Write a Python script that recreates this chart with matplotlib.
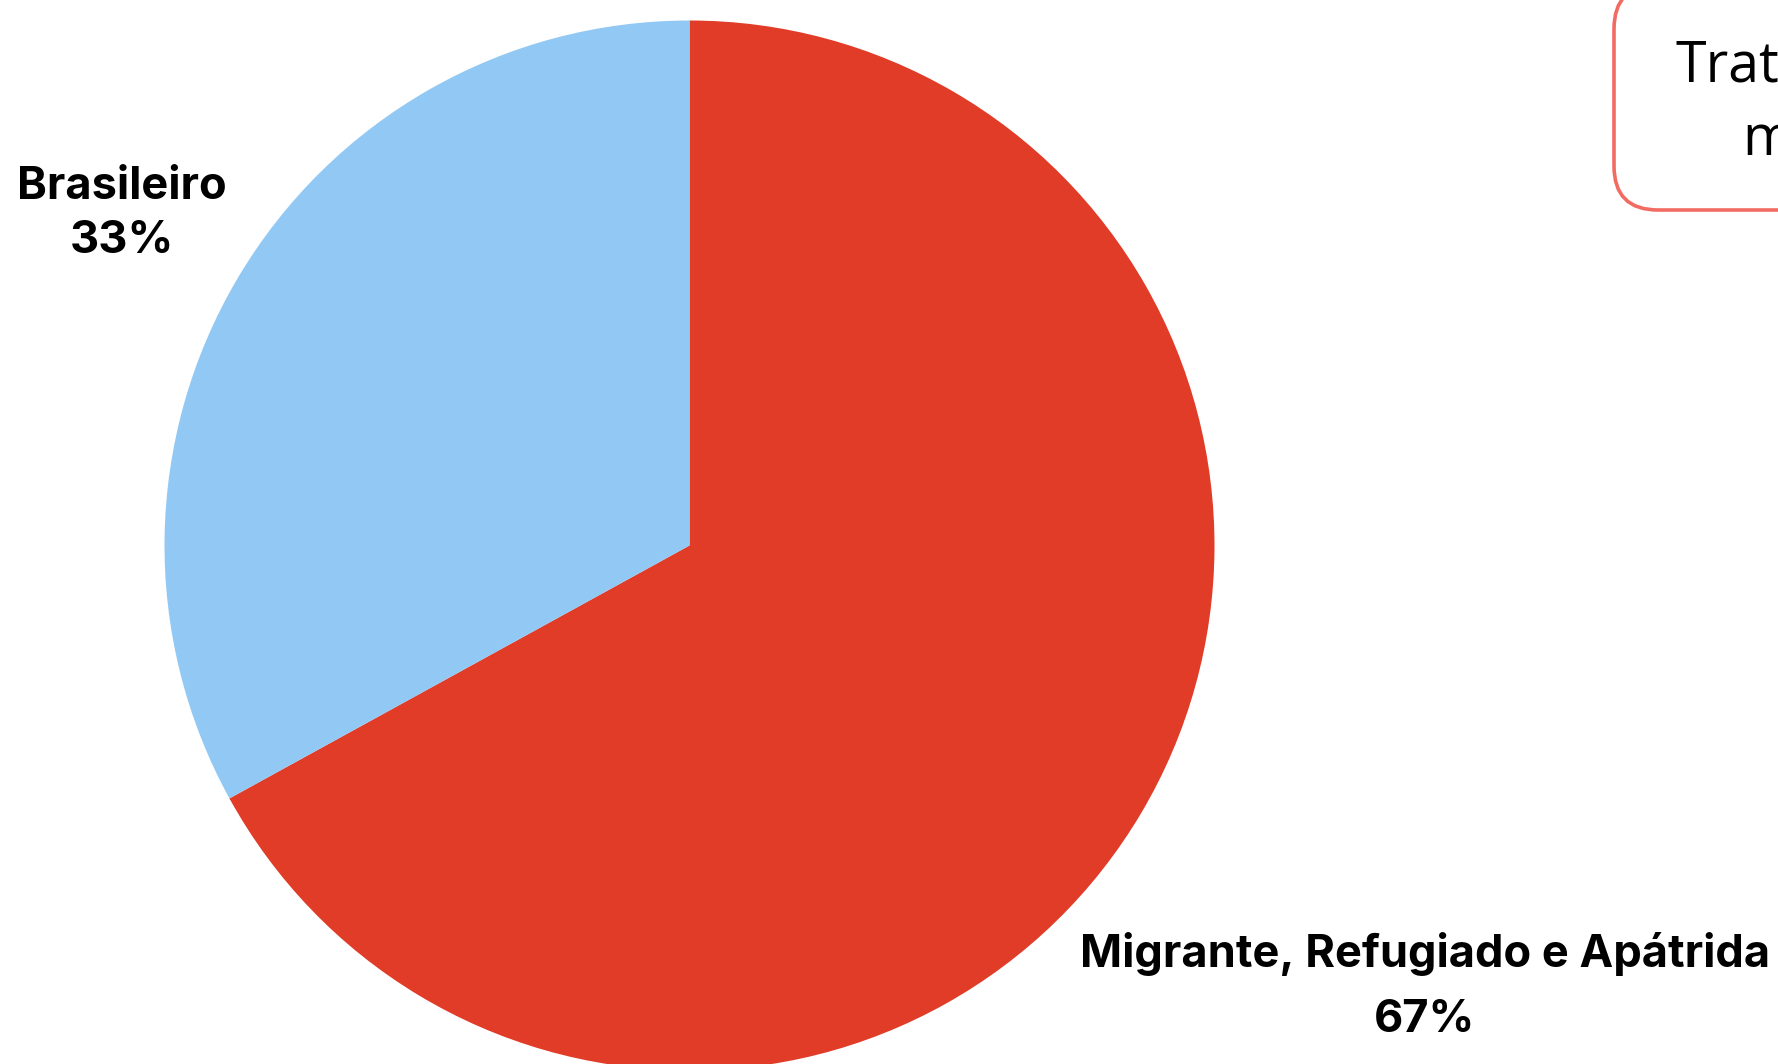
import matplotlib
matplotlib.use("Agg")
import matplotlib.pyplot as plt
from matplotlib.patches import FancyBboxPatch

categories = ["Migrante, Refugiado e Apátrida", "Brasileiro"]
values = [67, 33]
colors = ["#E03C28", "#92C9F4"]

W, H = 1778, 1064
fig = plt.figure(figsize=(W / 100, H / 100), dpi=100)
fig.patch.set_facecolor("white")

cx, cy, r = 689.5, 545.5, 525
ax = fig.add_axes([(cx - r) / W, (H - cy - r) / H, 2 * r / W, 2 * r / H])
ax.pie(values, colors=colors, startangle=90, counterclock=False,
       wedgeprops=dict(linewidth=0), radius=1.0)
ax.set_xlim(-1, 1)
ax.set_ylim(-1, 1)
ax.set_aspect("equal")
ax.axis("off")

ov = fig.add_axes([0, 0, 1, 1], zorder=5)
ov.set_xlim(0, W)
ov.set_ylim(H, 0)
ov.axis("off")
ov.patch.set_alpha(0)

lab_font = dict(family=["Inter", "DejaVu Sans"], fontweight="bold", color="black",
                fontsize=32.5, ha="center", va="baseline")
ov.text(122, 199, categories[1], **lab_font)
ov.text(122, 253, f"{values[1]}%", **lab_font)
ov.text(1425, 967, categories[0], **lab_font)
ov.text(1425, 1032, f"{values[0]}%", **lab_font)

box = FancyBboxPatch((1614, -15), 400, 225,
                     boxstyle="round,pad=0,rounding_size=44",
                     facecolor="white", edgecolor="#F26B63", linewidth=2.6,
                     clip_on=False)
ov.add_patch(box)
ov.text(1675, 82, "Tratamento", ha="left", va="baseline", fontsize=40,
        family=["Open Sans", "DejaVu Sans"], color="black", clip_on=True)
ov.text(1742, 155, "migrante", ha="left", va="baseline", fontsize=40,
        family=["Open Sans", "DejaVu Sans"], color="black", clip_on=True)

fig.savefig("out.png", dpi=100)
